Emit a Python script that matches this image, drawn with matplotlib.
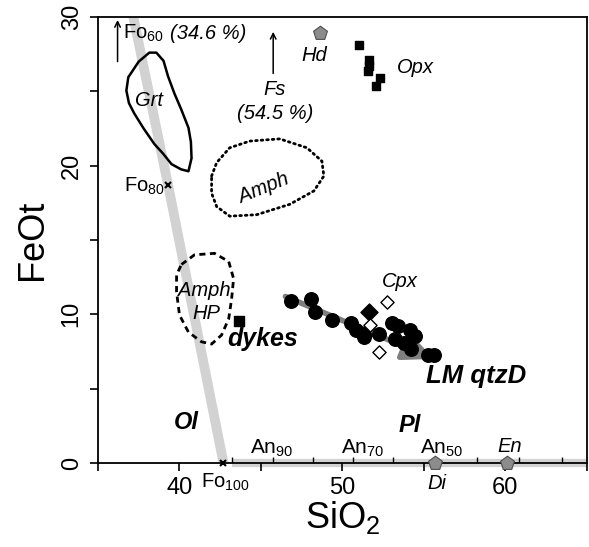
import matplotlib
matplotlib.use('Agg')
import matplotlib.pyplot as plt
from matplotlib.patches import Polygon

plt.rcParams['font.family'] = ['Liberation Sans', 'DejaVu Sans']
plt.rcParams['mathtext.fontset'] = 'custom'
plt.rcParams['mathtext.rm'] = 'Liberation Sans'
plt.rcParams['mathtext.it'] = 'Liberation Sans:italic'
plt.rcParams['mathtext.default'] = 'regular'

# olivine join: Fo100, Fo80, Fo60
ol_sio2 = [42.7, 39.3, 36.3]
ol_feo = [0.0, 18.7, 34.6]

# plagioclase scale ticks (An100 ... An20)
an_sio2 = [43.25, 45.73, 48.2, 50.66, 53.12, 55.66, 58.25, 60.81, 63.48]

# LM qtzD samples
lm_sio2 = [46.83, 48.06, 48.31, 49.35, 50.52, 50.83, 51.32, 52.25, 53.05, 53.42,
           54.15, 53.23, 53.78, 54.46, 54.22, 55.26, 55.63]
lm_feo = [10.9, 11.05, 10.15, 9.6, 9.4, 8.95, 8.45, 8.65, 9.4, 9.2,
          8.95, 8.35, 8.05, 8.55, 7.65, 7.25, 7.25]

# clinopyroxene
cpx_fill_sio2 = [51.63, 51.32]
cpx_fill_feo = [10.15, 8.6]
cpx_open_sio2 = [52.74, 51.69, 52.25]
cpx_open_feo = [10.85, 9.3, 7.45]

# orthopyroxene
opx_sio2 = [51.0, 51.65, 51.6, 51.55, 52.3, 52.05]
opx_feo = [28.1, 27.1, 26.7, 26.35, 25.9, 25.35]

# dykes
dyke_sio2 = [43.63]
dyke_feo = [9.55]

# end members
hd = (48.6, 28.9)
di = (55.7, 0.0)
en = (60.1, 0.0)

# fields
grt_sio2 = [38.15, 37.5, 36.86, 36.74, 36.9, 37.23, 37.8, 38.46, 39.0, 39.51, 40.1, 40.55,
            40.74, 40.7, 40.55, 40.1, 39.69, 39.3, 39.02, 38.58]
grt_feo = [27.6, 27.0, 25.95, 25.05, 24.2, 23.5, 22.5, 21.45, 20.8, 20.1, 19.75, 19.62,
           20.5, 21.6, 22.55, 23.8, 24.85, 26.0, 27.05, 27.6]

amph_sio2 = [41.97, 42.28, 43.08, 44.31, 46.15, 47.82, 48.74, 48.86, 48.25, 46.77,
             44.74, 43.08, 42.28, 41.97]
amph_feo = [19.3, 20.2, 21.2, 21.65, 21.8, 21.2, 20.3, 19.3, 18.3, 17.4,
            16.7, 16.6, 17.25, 18.15]

amphhp_sio2 = [40.12, 40.92, 42.15, 43.02, 43.32, 43.2, 43.02, 42.58, 41.97, 41.35,
               40.55, 40.0, 39.82, 39.82]
amphhp_feo = [13.35, 14.0, 14.1, 13.55, 12.4, 11.05, 9.7, 8.6, 8.0, 8.15,
              8.8, 9.95, 11.5, 12.65]

# LM trend arrow
trend_start = (46.5, 11.2)
trend_end = (55.6, 7.0)

fig = plt.figure(figsize=(5.89, 5.47), dpi=100)
ax = fig.add_axes([0.1664, 0.1536, 0.830, 0.8154])
ax.set_xlim(35, 65)
ax.set_ylim(0, 30)

# gray mineral joins
ax.plot(ol_sio2, ol_feo, color='#d2d2d2', lw=7, solid_capstyle='butt', zorder=1)
ax.plot([an_sio2[0], 65], [0, 0], color='#d2d2d2', lw=6, solid_capstyle='butt',
        clip_on=False, zorder=1)
ax.vlines(an_sio2, 0, 0.4, color='k', lw=1, zorder=3)

ax.plot(ol_sio2[:2], ol_feo[:2], 'x', color='k', ms=5, mew=1.5, zorder=4, clip_on=False)

# fields
ax.add_patch(Polygon(list(zip(grt_sio2, grt_feo)), closed=True, fill=False,
                     ec='k', lw=1.8, joinstyle='round', zorder=2))
ax.add_patch(Polygon(list(zip(amph_sio2, amph_feo)), closed=True, fill=False,
                     ec='k', lw=2, ls=(0, (0.6, 1.4)), capstyle='round', zorder=2))
ax.add_patch(Polygon(list(zip(amphhp_sio2, amphhp_feo)), closed=True, fill=False,
                     ec='k', lw=2, ls=(0, (2.2, 1.6)), zorder=2))

# trend arrow
ax.annotate('', xy=trend_end, xytext=trend_start,
            arrowprops=dict(arrowstyle='-|>,head_length=1.3,head_width=0.6',
                            color='#7f7f7f', lw=4, mutation_scale=14,
                            shrinkA=0, shrinkB=0), zorder=2)

ax.scatter(lm_sio2, lm_feo, s=95, color='k', zorder=5)
ax.scatter(cpx_fill_sio2, cpx_fill_feo, marker='D', s=75, color='k', zorder=5)
ax.scatter(cpx_open_sio2, cpx_open_feo, marker='D', s=45, facecolor='white',
           edgecolor='k', lw=1, zorder=6)
ax.scatter(opx_sio2, opx_feo, marker='s', s=40, color='k', zorder=5)
ax.scatter(dyke_sio2, dyke_feo, marker='s', s=55, color='k', zorder=5)
ax.scatter([hd[0], di[0], en[0]], [hd[1], di[1], en[1]], marker='p', s=110,
           facecolor='#8c8c8c', edgecolor='#505050', lw=0.8, zorder=6, clip_on=False)

# arrows off-scale
ax.annotate('', xy=(36.2, 29.8), xytext=(36.2, 27.0),
            arrowprops=dict(arrowstyle='->', color='k', lw=1.1, shrinkA=0, shrinkB=0))
ax.annotate('', xy=(45.75, 29.0), xytext=(45.75, 26.2),
            arrowprops=dict(arrowstyle='->', color='k', lw=1.1, shrinkA=0, shrinkB=0))

fs = 14.5
ax.text(36.55, 28.9, 'Fo$_{60}$', fontsize=fs, ha='left', va='center')
ax.text(39.4, 28.9, '(34.6 %)', fontsize=fs, style='italic', ha='left', va='center')
ax.text(45.85, 25.1, 'Fs', fontsize=fs, style='italic', ha='center', va='center')
ax.text(45.9, 23.5, '(54.5 %)', fontsize=fs, style='italic', ha='center', va='center')
ax.text(48.3, 27.4, 'Hd', fontsize=fs, style='italic', ha='center', va='center')
ax.text(54.5, 26.6, 'Opx', fontsize=fs, style='italic', ha='center', va='center')
ax.text(38.15, 24.4, 'Grt', fontsize=fs, style='italic', ha='center', va='center')
ax.text(36.6, 18.6, 'Fo$_{80}$', fontsize=fs, ha='left', va='center')
ax.text(45.2, 18.5, 'Amph', fontsize=fs, style='italic', ha='center', va='center',
        rotation=22)
ax.text(41.55, 11.6, 'Amph', fontsize=fs, style='italic', ha='center', va='center')
ax.text(41.65, 10.05, 'HP', fontsize=fs, style='italic', ha='center', va='center')
ax.text(53.5, 12.2, 'Cpx', fontsize=fs, style='italic', ha='center', va='center')
ax.text(45.1, 8.35, 'dykes', fontsize=18, weight='bold', style='italic',
        ha='center', va='center')
ax.text(58.2, 5.85, 'LM qtzD', fontsize=18.5, weight='bold', style='italic',
        ha='center', va='center')
ax.text(40.4, 2.75, 'Ol', fontsize=17, weight='bold', style='italic', ha='center', va='center')
ax.text(54.15, 2.5, 'Pl', fontsize=17, weight='bold', style='italic', ha='center', va='center')

an_labels = [('An$_{90}$', 45.66), ('An$_{70}$', 51.23), ('An$_{50}$', 56.12)]
for lab, x in an_labels:
    ax.text(x, 0.3, lab, fontsize=15, ha='center', va='bottom')
ax.text(60.25, 0.5, 'En', fontsize=fs, style='italic', ha='center', va='bottom')
ax.text(55.8, -0.75, 'Di', fontsize=fs, style='italic', ha='center', va='top')
ax.text(42.83, -0.6, 'Fo$_{100}$', fontsize=14.5, ha='center', va='top')

# axes
ax.set_xticks([40, 50, 60])
ax.set_xticks([35, 45, 55, 65], minor=True)
ax.set_yticks([0, 10, 20, 30])
ax.set_yticks([5, 15, 25], minor=True)
ax.tick_params(which='both', direction='out', length=6, width=1.2, labelsize=17,
               top=False, right=False)
ax.tick_params(axis='x', pad=4)
ax.tick_params(axis='y', pad=5)
for lab in ax.get_yticklabels():
    lab.set_rotation(90)
    lab.set_va('center')
for sp in ax.spines.values():
    sp.set_linewidth(1.3)

ax.set_xlabel('SiO$_2$', fontsize=26, labelpad=0)
ax.set_ylabel('FeOt', fontsize=26, labelpad=8)

fig.savefig('out.png', dpi=100)
